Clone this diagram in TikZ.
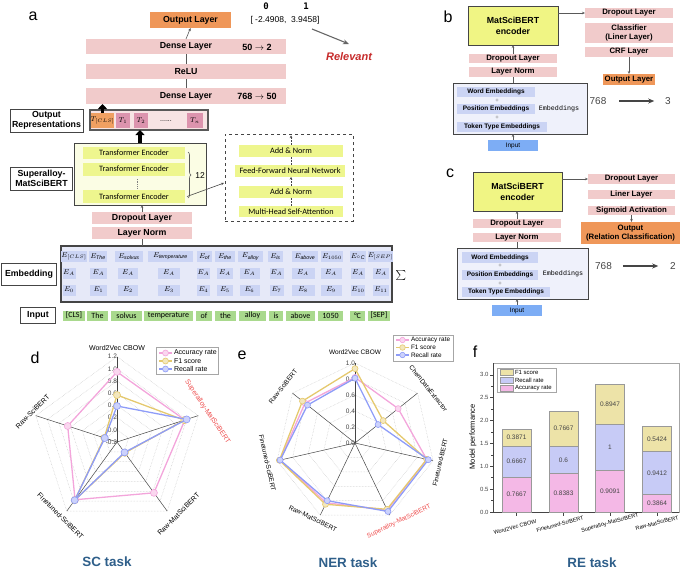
\documentclass[tikz,border=0pt]{standalone}
\usepackage{fontspec}
\setmainfont{Liberation Sans}
\newfontfamily\calfont{Carlito}
\newfontfamily\dmono{DejaVu Sans Mono}
\newfontfamily\lmono{Liberation Mono}
\usetikzlibrary{arrows.meta,decorations.pathreplacing,calc,shapes.geometric}
\newcommand\fsz[1]{\fontsize{#1}{#1}\selectfont}
\definecolor{bandpink}{HTML}{F1CBCB}
\definecolor{outorange}{HTML}{EF9759}
\definecolor{tclsorange}{HTML}{F0A062}
\definecolor{tpink}{HTML}{DC94AE}
\definecolor{orcbg}{HTML}{F7E4E4}
\definecolor{tboxbg}{HTML}{FBFDE4}
\definecolor{ygreen}{HTML}{EEF68E}
\definecolor{embbg}{HTML}{E6E9F8}
\definecolor{embcell}{HTML}{CBD4F4}
\definecolor{ingreen}{HTML}{A9D98D}
\definecolor{encyellow}{HTML}{F0F584}
\definecolor{inblue}{HTML}{7DADF5}
\definecolor{embbbg}{HTML}{EFF1FB}
\definecolor{relred}{HTML}{C62A2A}
\definecolor{dg}{HTML}{454545}
\definecolor{taskblue}{HTML}{2F5F8A}
\definecolor{labred}{HTML}{EE4D4D}
\definecolor{accpink}{HTML}{F3A5DB}
\definecolor{f1yel}{HTML}{E5C96E}
\definecolor{recblue}{HTML}{8E9CF8}
\definecolor{fpink}{HTML}{F4B8E6}
\definecolor{fblue}{HTML}{C7CBF6}
\definecolor{fyel}{HTML}{EDE3A8}
\begin{document}
\begin{tikzpicture}[x=1pt,y=-1pt,
  every node/.style={inner sep=0pt,outer sep=0pt},
  band/.style={fill=bandpink, font=\bfseries\fsz{8.8}},
  bandb/.style={fill=bandpink, font=\bfseries\fsz{7.8}},
  lblbox/.style={draw=dg, line width=0.9pt, fill=white, align=center, font=\bfseries\fontsize{8.8}{10.5}\selectfont},
  ybar/.style={fill=ygreen, font=\calfont\fsz{8.2}},
  ecell/.style={fill=embcell, font=\fsz{7.5}, minimum height=11pt},
  tok/.style={fill=ingreen, font=\calfont\fsz{8}, minimum height=10pt},
  tcell/.style={fill=tpink, minimum height=15pt, font=\fsz{7.5}},
  mathlab/.style={font=\fsz{9}},
  conn/.style={draw=gray!70!black, line width=0.6pt},
  connar/.style={conn, -{Stealth[length=3pt,width=2.5pt]}},
  dashc/.style={draw=dg, line width=0.6pt, dash pattern=on 2pt off 1.2pt},
  bigar/.style={line width=3.2pt, -{Triangle[length=5pt,width=9pt]}},
  plab/.style={font=\fsz{16}},
  encbox/.style={draw=dg, line width=1pt, fill=encyellow, align=center, font=\bfseries\fontsize{8.8}{11}\selectfont},
  embox/.style={draw=dg, line width=1pt, fill=embbbg},
  ebar/.style={fill=embcell, font=\bfseries\fsz{6.5}},
  pluslab/.style={font=\fsz{6}, text=gray},
  inbox/.style={fill=inblue, minimum width=50pt, minimum height=11pt, font=\fsz{6.5}},
  numlab/.style={font=\fsz{10}, text=dg},
  rgrid/.style={draw=gray!45, densely dotted, line width=0.5pt},
  raxis/.style={draw=dg, line width=0.5pt},
  rtick/.style={font=\fsz{6.5}, text=dg},
  rlab/.style={font=\fsz{7}},
  accl/.style={draw=accpink, line width=1.3pt, line join=round},
  f1l/.style={draw=f1yel, line width=1.3pt, line join=round},
  recl/.style={draw=recblue, line width=1.3pt, line join=round},
  accm/.style={circle, minimum size=7pt, draw=accpink, line width=0.6pt, fill=accpink!45!white},
  f1m/.style={circle, minimum size=7pt, draw=f1yel, line width=0.6pt, fill=f1yel!45!white},
  recm/.style={circle, minimum size=7pt, draw=recblue, line width=0.6pt, fill=recblue!45!white},
  legbox/.style={draw=gray!70, fill=white, line width=0.5pt},
  fbar/.style={draw=gray!80, line width=0.6pt},
  flab/.style={font=\fsz{6.5}, text=dg},
  tasklab/.style={font=\bfseries\fsz{13.4}, text=taskblue}
]
\useasboundingbox (0,0) rectangle (685,573);

% ================= panel a =================
\node[plab] (la) at (33,16) {a};
\node[fill=outorange, minimum width=81pt, minimum height=16pt, font=\bfseries\fsz{8.8}] (outA) at (190.5,20) {Output Layer};
\node[font=\dmono\bfseries\fsz{9}] (z0) at (266,6) {0};
\node[font=\dmono\bfseries\fsz{9}] (z1) at (306,6) {1};
\node[font=\fsz{8.5}] (vals) at (285,20) {[ -2.4908,\ \ 3.9458]};
\node[font=\bfseries\itshape\fsz{11}, text=relred] (rel) at (349,57) {Relevant};
\coordinate (relA) at (312,29);
\coordinate (relB) at (349,44);
\draw[line width=1.1pt, draw=gray!80!black, -{Stealth[length=6pt,width=5pt]}] (relA) -- (relB);

\node[band, minimum width=200pt, minimum height=15pt] (d2) at (186,46.5) {Dense Layer};
\node[mathlab] (d2m) at (257,47) {$\mathbf{50\rightarrow 2}$};
\node[band, minimum width=200pt, minimum height=15pt] (relu) at (186,71.5) {ReLU};
\node[band, minimum width=200pt, minimum height=16pt] (d1) at (186,96) {Dense Layer};
\node[mathlab] (d1m) at (257,96.5) {$\mathbf{768\rightarrow 50}$};
\draw[connar] (d2.north) -- (outA.south);
\draw[conn] (relu.north) -- (d2.south);
\draw[conn] (d1.north) -- (relu.south);

\node[lblbox, minimum width=73pt, minimum height=23pt] (orl) at (46.5,120.5) {Output\\Representations};
\node[draw=gray!70!black, line width=1.2pt, fill=orcbg, minimum width=118pt, minimum height=20pt] (orc) at (149,120) {};
\node[fill=tclsorange, minimum width=21pt, minimum height=15pt, font=\fsz{7.5}] (tcls) at (102.5,120.5) {$T_{[CLS]}$};
\node[tcell, minimum width=14pt] (t1) at (123,120.5) {$T_1$};
\node[tcell, minimum width=14pt] (t2) at (141,120.5) {$T_2$};
\node[font=\fsz{7}] (tdots) at (166,121) {......};
\node[tcell, minimum width=16pt] (tn) at (195,120.5) {$T_n$};
\draw[bigar] (tcls.north) -- (tcls.north |- d1.south);

\node[draw=dg, line width=1pt, fill=tboxbg, minimum width=132pt, minimum height=62pt] (tbox) at (140,174) {};
\draw[bigar] (tbox.north) -- (tbox.north |- orc.south);
\node[ybar, minimum width=102pt, minimum height=12pt] (te1) at (134,153) {Transformer Encoder};
\node[ybar, minimum width=102pt, minimum height=13pt] (te2) at (134,169) {Transformer Encoder};
\node[ybar, minimum width=102pt, minimum height=13pt] (te3) at (134,196.5) {Transformer Encoder};
\coordinate (vd1) at (137,179);
\coordinate (vd2) at (137,188);
\draw[densely dotted, draw=gray, line width=0.7pt] (vd1) -- (vd2);
\coordinate (br1) at (188,152);
\coordinate (br2) at (188,198);
\draw[decorate, decoration={brace, amplitude=3pt}, draw=gray!70!black, line width=0.6pt] (br1) -- (br2);
\node[font=\fsz{8.5}] (n12) at (200,176) {12};

\node[draw=dg, dashed, line width=0.9pt, minimum width=128pt, minimum height=87pt] (dbox) at (289,177.5) {};
\node[ybar, minimum width=104pt, minimum height=12pt] (an2) at (291,151) {Add \& Norm};
\node[ybar, minimum width=110pt, minimum height=12pt] (ffn) at (290,171) {Feed-Forward Neural Network};
\node[ybar, minimum width=104pt, minimum height=12pt] (an1) at (291,192) {Add \& Norm};
\node[ybar, minimum width=104pt, minimum height=11pt] (mhsa) at (291,211.5) {Multi-Head Self-Attention};
\draw[dashc] (mhsa.north) -- (an1.south);
\draw[dashc, -{Stealth[length=2.5pt,width=2.5pt]}] (an1.north) -- (an1.north |- ffn.south);
\draw[dashc] (an1.north |- ffn.north) -- (an2.south);
\draw[dashc, -{Stealth[length=2.5pt,width=2.5pt]}] (an2.north) -- ([yshift=-1.5pt]an2.north |- dbox.north);
\coordinate (dboxin) at (224,183);
\draw[draw=dg, line width=0.6pt, -{Stealth[length=3pt,width=2.5pt]}] ([xshift=2pt]te3.east) -- (dboxin);

\node[lblbox, minimum width=62pt, minimum height=23pt] (sml) at (41.5,178.5) {Superalloy-\\MatSciBERT};

\node[band, minimum width=100pt, minimum height=12pt] (dropA) at (142,218) {Dropout Layer};
\node[band, minimum width=100pt, minimum height=12pt] (lnA) at (142,233) {Layer Norm};
\draw[connar] (dropA.north) -- (dropA.north |- tbox.south);

\node[draw=dg, line width=1.2pt, fill=embbg, minimum width=331pt, minimum height=56pt] (emb) at (226.5,274) {};
\draw[conn] (lnA.south) -- (lnA.south |- emb.north);
\foreach \cxa/\wa/\cxb/\wb/\esub [count=\i] in {
  74/22/69/13/{[CLS]},
  98/18/98.5/17/{\mathit{The}},
  129/28/128/20/{\mathit{solvus}},
  170.5/45/169/22/{\mathit{temperature}},
  204.5/15/203.5/13/{\mathit{of}},
  225/20/225/16/{\mathit{the}},
  250.5/25/249.5/20/{\mathit{alloy}},
  275.5/15/276.5/14/{\mathit{is}},
  305/26/303/23/{\mathit{above}},
  332/22/331/21/{1050},
  358/16/358/14/{{}^{\circ}\mathit{C}},
  380.5/17/381/16/{[SEP]}} {
  \pgfmathtruncatemacro\jx{\i-1}
  \node[ecell, minimum width=\wa pt] (eA\i) at (\cxa,256.5) {$E_{\esub}$};
  \node[ecell, minimum width=\wb pt] (eB\i) at (\cxb,273) {$E_A$};
  \node[ecell, minimum width=\wb pt] (eC\i) at (\cxb,290) {$E_{\jx}$};
}
\node (sig) at (401,275) {\fsz{15}$\sum$};
\node[lblbox, minimum width=55pt, minimum height=22pt] (embl) at (29,274) {Embedding};

\node[lblbox, minimum width=35pt, minimum height=16pt] (inl) at (38,315.5) {Input};
\foreach \cxa/\wa/\tk [count=\i] in {74/22/[CLS], 97.5/21/The, 126.5/31/solvus, 168.5/49/temperature, 204/16/of, 225.5/21/the, 252.5/27/alloy, 276/14/is, 300.5/29/above, 330.5/25/1050, 357.5/15/°C, 379/22/[SEP]} {
  \node[tok, minimum width=\wa pt] (tk\i) at (\cxa,315.5) {\tk};
}

% ================= panel b =================
\node[plab] (lb) at (448,17) {b};
\node[encbox, minimum width=90pt, minimum height=39pt] (encB) at (513,25.5) {MatSciBERT\\encoder};
\node[bandb, minimum width=88pt, minimum height=10pt] (dropB) at (629,13) {Dropout Layer};
\node[bandb, minimum width=88pt, minimum height=20pt, align=center, font=\bfseries\fontsize{7.8}{9.5}\selectfont] (clsB) at (629,33) {Classifier\\(Liner Layer)};
\node[bandb, minimum width=88pt, minimum height=10pt] (crfB) at (629,52) {CRF Layer};
\node[fill=outorange, minimum width=52pt, minimum height=11pt, font=\bfseries\fsz{7.8}] (outB) at (629,79.5) {Output Layer};
\draw[connar] (crfB.south) -- (outB.north);
\draw[connar] (dropB.west -| encB.east) -- (dropB.west);
\node[bandb, minimum width=88pt, minimum height=9.5pt] (dropB2) at (513,58.5) {Dropout Layer};
\node[bandb, minimum width=88pt, minimum height=10pt] (lnB) at (513,72) {Layer Norm};
\node[embox, minimum width=134pt, minimum height=51pt] (embB) at (520,108.5) {};
\node[ebar, minimum width=78pt, minimum height=10pt] (wB) at (496,92) {Word Embeddings};
\node[ebar, minimum width=78pt, minimum height=10pt] (pB) at (496,109) {Position Embeddings};
\node[ebar, minimum width=90pt, minimum height=10pt] (tB) at (502,127) {Token Type Embeddings};
\node[pluslab] (plb1) at (497,100.5) {+};
\node[pluslab] (plb2) at (497,118) {+};
\node[font=\lmono\fsz{6.7}] (ebB) at (559,109) {Embeddings};
\node[inbox] (inB) at (513,145.5) {Input};
\draw[connar] (inB.north) -- (inB.north |- embB.south);
\draw[conn] (lnB.south) -- (lnB.south |- embB.north);
\draw[connar] (dropB2.north) -- (dropB2.north |- encB.south);
\node[numlab] (n768b) at (598,101) {768};
\node[numlab] (n3) at (668,101) {3};
\draw[line width=1.2pt, draw=dg, -{Stealth[length=6pt,width=5pt]}] ([xshift=13pt]n768b.east) -- ([xshift=-11pt]n3.west);

% ================= panel c =================
\node[plab] (lc) at (450,173) {c};
\node[encbox, minimum width=89pt, minimum height=39pt] (encC) at (517.5,191.5) {MatSciBERT\\encoder};
\node[bandb, minimum width=87pt, minimum height=10pt] (dropC) at (631.5,179) {Dropout Layer};
\node[bandb, minimum width=87pt, minimum height=9.5pt] (linC) at (631.5,194.5) {Liner Layer};
\node[bandb, minimum width=87pt, minimum height=9.5pt] (sigC) at (631.5,210.5) {Sigmoid Activation};
\node[fill=outorange, minimum width=99pt, minimum height=22pt, align=center, font=\bfseries\fontsize{7.8}{9.5}\selectfont] (outC) at (630.5,233) {Output\\(Relation Classification)};
\draw[connar] (sigC.south) -- (sigC.south |- outC.north);
\draw[connar] (dropC.west -| encC.east) -- (dropC.west);
\node[bandb, minimum width=88pt, minimum height=9pt] (dropC2) at (517,223.5) {Dropout Layer};
\node[bandb, minimum width=88pt, minimum height=9pt] (lnC) at (517,237.5) {Layer Norm};
\node[embox, minimum width=131pt, minimum height=51pt] (embC) at (522.5,273.5) {};
\node[ebar, minimum width=76pt, minimum height=11pt] (wC) at (500,257.5) {Word Embeddings};
\node[ebar, minimum width=76pt, minimum height=10pt] (pC) at (500,275) {Position Embeddings};
\node[ebar, minimum width=88pt, minimum height=10pt] (tC) at (506,292) {Token Type Embeddings};
\node[pluslab] (plc1) at (500,266) {+};
\node[pluslab] (plc2) at (500,283.5) {+};
\node[font=\lmono\fsz{6.7}] (ebC) at (563,274) {Embeddings};
\node[inbox] (inC) at (517,310.5) {Input};
\draw[connar] (inC.north) -- (inC.north |- embC.south);
\draw[conn] (lnC.south) -- (lnC.south |- embC.north);
\draw[connar] (dropC2.north) -- (dropC2.north |- encC.south);
\node[numlab] (n768c) at (603.5,266) {768};
\node[numlab] (n2) at (673,266) {2};
\draw[line width=1.2pt, draw=dg, -{Stealth[length=6pt,width=5pt]}] ([xshift=11pt]n768c.east) -- ([xshift=-12pt]n2.west);

% ================= panel d =================
\node[plab] (ld) at (35,358) {d};
\coordinate (dC) at (117,442);
\foreach \k in {1,...,7}
  \node[rgrid, regular polygon, regular polygon sides=5, minimum size={24.4*\k pt}] (dG\k) at (dC) {};
\foreach \ang [count=\i] in {90,18,-54,-126,162} {
  \coordinate (dX\i) at ($(dC)+(\ang:85.4pt)$);
  \draw[raxis] (dC) -- (dX\i);
}
\foreach \tl [count=\k from 0] in {-0.2,0.0,0.2,0.4,0.6,0.8,1.0,1.2}
  \node[rtick, anchor=east] (dT\k) at ($(dC)+(90:{\k*12.2pt})$) {\tl};
% series
\foreach \ang/\val [count=\i] in {90/0.95,18/0.97,-54/0.83,-126/0.97,162/0.65}
  \coordinate (dA\i) at ($(dC)+(\ang:{(\val+0.2)*61pt})$);
\foreach \ang/\val [count=\i] in {90/0.57,18/0.96,-54/0.02,-126/0.98,162/0.02}
  \coordinate (dF\i) at ($(dC)+(\ang:{(\val+0.2)*61pt})$);
\foreach \ang/\val [count=\i] in {90/0.39,18/1.0,-54/0.01,-126/0.98,162/0.01}
  \coordinate (dR\i) at ($(dC)+(\ang:{(\val+0.2)*61pt})$);
\draw[accl] (dA1) -- (dA2) -- (dA3) -- (dA4) -- (dA5) -- cycle;
\foreach \i in {1,...,5} \node[accm] (dAm\i) at (dA\i) {};
\draw[f1l] (dF1) -- (dF2) -- (dF3) -- (dF4) -- (dF5) -- cycle;
\foreach \i in {1,...,5} \node[f1m] (dFm\i) at (dF\i) {};
\draw[recl] (dR1) -- (dR2) -- (dR3) -- (dR4) -- (dR5) -- cycle;
\foreach \i in {1,...,5} \node[recm] (dRm\i) at (dR\i) {};
\node[rlab] (dL1) at (117,348) {Word2Vec CBOW};
\node[rlab, rotate=-56, text=labred] (dL2) at (207.5,412) {Superalloy-MatSciBERT};
\node[rlab, rotate=45] (dL3) at (178.5,514) {Raw-MatSciBERT};
\node[rlab, rotate=-45] (dL4) at (60.5,516) {Finetuned-SciBERT};
\node[rlab, rotate=45] (dL5) at (32.5,411.5) {Raw-SciBERT};
% legend d
\node[legbox, minimum width=62pt, minimum height=27pt] (dleg) at (187,360.5) {};
\coordinate (dlg1a) at (159,353); \coordinate (dlg1b) at (172,353);
\coordinate (dlg2a) at (159,361); \coordinate (dlg2b) at (172,361);
\coordinate (dlg3a) at (159,369); \coordinate (dlg3b) at (172,369);
\draw[accl] (dlg1a) -- (dlg1b); \node[accm, minimum size=6pt] (dlm1) at ($(dlg1a)!0.5!(dlg1b)$) {};
\draw[f1l] (dlg2a) -- (dlg2b); \node[f1m, minimum size=6pt] (dlm2) at ($(dlg2a)!0.5!(dlg2b)$) {};
\draw[recl] (dlg3a) -- (dlg3b); \node[recm, minimum size=6pt] (dlm3) at ($(dlg3a)!0.5!(dlg3b)$) {};
\node[font=\fsz{7}, anchor=west] (dlt1) at (174,353) {Accuracy rate};
\node[font=\fsz{7}, anchor=west] (dlt2) at (174,361) {F1 score};
\node[font=\fsz{7}, anchor=west] (dlt3) at (174,369) {Recall rate};
\node[tasklab] (tSC) at (107,562) {SC task};

% ================= panel e =================
\node[plab] (le) at (242,355) {e};
\coordinate (eC) at (355,443);
\foreach \k in {1,...,5}
  \node[rgrid, regular polygon, regular polygon sides=7, minimum size={32*\k pt}] (eG\k) at (eC) {};
\foreach \ang [count=\i] in {90,38.571,-12.857,-64.286,-115.714,-167.143,141.429} {
  \coordinate (eX\i) at ($(eC)+(\ang:80pt)$);
  \draw[raxis] (eC) -- (eX\i);
}
\foreach \tl [count=\k from 0] in {0.0,0.2,0.4,0.6,0.8,1.0}
  \node[rtick, anchor=east] (eT\k) at ($(eC)+(90:{\k*16pt})$) {\tl};
\foreach \ang/\val [count=\i] in {90/0.82,38.571/0.69,-12.857/0.92,-64.286/0.93,-115.714/0.83,-167.143/0.96,141.429/0.80}
  \coordinate (eA\i) at ($(eC)+(\ang:{\val*80pt})$);
\foreach \ang/\val [count=\i] in {90/0.93,38.571/0.45,-12.857/0.92,-64.286/0.92,-115.714/0.85,-167.143/0.97,141.429/0.84}
  \coordinate (eF\i) at ($(eC)+(\ang:{\val*80pt})$);
\foreach \ang/\val [count=\i] in {90/0.81,38.571/0.37,-12.857/0.94,-64.286/0.95,-115.714/0.80,-167.143/0.96,141.429/0.76}
  \coordinate (eR\i) at ($(eC)+(\ang:{\val*80pt})$);
\draw[accl] (eA1) -- (eA2) -- (eA3) -- (eA4) -- (eA5) -- (eA6) -- (eA7) -- cycle;
\foreach \i in {1,...,7} \node[accm, minimum size=6pt] (eAm\i) at (eA\i) {};
\draw[f1l] (eF1) -- (eF2) -- (eF3) -- (eF4) -- (eF5) -- (eF6) -- (eF7) -- cycle;
\foreach \i in {1,...,7} \node[f1m, minimum size=6pt] (eFm\i) at (eF\i) {};
\draw[recl] (eR1) -- (eR2) -- (eR3) -- (eR4) -- (eR5) -- (eR6) -- (eR7) -- cycle;
\foreach \i in {1,...,7} \node[recm, minimum size=6pt] (eRm\i) at (eR\i) {};
\node[font=\fsz{6.5}] (eL1) at (355,352) {Word2Vec CBOW};
\node[font=\fsz{6.5}, rotate=-51.4] (eL2) at (428.5,388.5) {ChemDataExtractor};
\node[font=\fsz{6.5}, rotate=77.1] (eL3) at (440,462.5) {Finetuned-BERT};
\node[font=\fsz{6.5}, rotate=25.7, text=labred] (eL4) at (399,521.5) {Superalloy-MatSciBERT};
\node[font=\fsz{6.5}, rotate=-25.7] (eL5) at (313,518.5) {Raw-MatSciBERT};
\node[font=\fsz{6.5}, rotate=-77.1] (eL6) at (267.5,463) {Finetuned-SciBERT};
\node[font=\fsz{6.5}, rotate=51.4] (eL7) at (283,386.5) {Raw-SciBERT};
% legend e
\node[legbox, minimum width=60pt, minimum height=26pt] (eleg) at (423,348) {};
\coordinate (elg1a) at (396,340); \coordinate (elg1b) at (409,340);
\coordinate (elg2a) at (396,347.5); \coordinate (elg2b) at (409,347.5);
\coordinate (elg3a) at (396,355); \coordinate (elg3b) at (409,355);
\draw[accl] (elg1a) -- (elg1b); \node[accm, minimum size=5.5pt] (elm1) at ($(elg1a)!0.5!(elg1b)$) {};
\draw[f1l] (elg2a) -- (elg2b); \node[f1m, minimum size=5.5pt] (elm2) at ($(elg2a)!0.5!(elg2b)$) {};
\draw[recl] (elg3a) -- (elg3b); \node[recm, minimum size=5.5pt] (elm3) at ($(elg3a)!0.5!(elg3b)$) {};
\node[font=\fsz{6.4}, anchor=west] (elt1) at (411,340) {Accuracy rate};
\node[font=\fsz{6.4}, anchor=west] (elt2) at (411,347.5) {F1 score};
\node[font=\fsz{6.4}, anchor=west] (elt3) at (411,355) {Recall rate};
\node[tasklab] (tNER) at (348,563) {NER task};

% ================= panel f =================
\node[plab] (lf) at (475,352) {f};
\draw[draw=gray!70, line width=0.6pt] (493,363) rectangle (679,512.5);
\draw[draw=dg, line width=0.7pt] (493,363) -- (493,512.5) -- (679,512.5);
\foreach \vv [count=\i] in {0.0,0.5,1.0,1.5,2.0,2.5,3.0} {
  \draw[draw=dg, line width=0.6pt] (493,{512-45.7*\vv}) -- (490,{512-45.7*\vv});
  \node[font=\fsz{6}, text=dg, anchor=east] (fy\i) at (488.5,{512-45.7*\vv}) {\vv};
}
\foreach \vv in {0.25,0.75,...,2.75}
  \draw[draw=dg, line width=0.5pt] (493,{512-45.7*\vv}) -- (491.3,{512-45.7*\vv});
\foreach \cxa/\va/\vr/\vf [count=\i] in {516.5/0.7667/0.6667/0.3871, 563.5/0.8383/0.6/0.7667, 610/0.9091/1/0.8947, 657/0.3864/0.9412/0.5424} {
  \pgfmathsetmacro\ya{512-45.7*\va}
  \pgfmathsetmacro\yr{\ya-45.7*\vr}
  \pgfmathsetmacro\yf{\yr-45.7*\vf}
  \draw[draw=dg, line width=0.5pt] (\cxa,512.5) -- (\cxa,515.5);
  \draw[fbar, fill=fpink] ({\cxa-14.5},512) rectangle ({\cxa+14.5},\ya);
  \draw[fbar, fill=fblue] ({\cxa-14.5},\ya) rectangle ({\cxa+14.5},\yr);
  \draw[fbar, fill=fyel] ({\cxa-14.5},\yr) rectangle ({\cxa+14.5},\yf);
  \node[flab] (fa\i) at (\cxa,{(512+\ya)/2}) {\va};
  \node[flab] (fr\i) at (\cxa,{(\ya+\yr)/2}) {\vr};
  \node[flab] (ff\i) at (\cxa,{(\yr+\yf)/2}) {\vf};
}
\node[legbox, minimum width=59pt, minimum height=24pt] (fleg) at (526.5,380) {};
\node[fill=fyel, draw=gray!80, line width=0.4pt, minimum width=13pt, minimum height=6pt] (fs1) at (506.5,372) {};
\node[fill=fblue, draw=gray!80, line width=0.4pt, minimum width=13pt, minimum height=6pt] (fs2) at (506.5,380) {};
\node[fill=fpink, draw=gray!80, line width=0.4pt, minimum width=13pt, minimum height=6pt] (fs3) at (506.5,388) {};
\node[font=\fsz{6}, anchor=west] (flt1) at (515,372) {F1 score};
\node[font=\fsz{6}, anchor=west] (flt2) at (515,380) {Recall rate};
\node[font=\fsz{6}, anchor=west] (flt3) at (515,388) {Accuracy rate};
\node[font=\fsz{7.5}, rotate=90] (fyl) at (473,437) {Model performance};
\node[font=\fsz{5.5}, rotate=15] (fx1) at (515,527) {Word2Vec CBOW};
\node[font=\fsz{5.5}, rotate=15] (fx2) at (560,524) {Finetuned-SciBERT};
\node[font=\fsz{5.5}, rotate=15] (fx3) at (610,523) {Superalloy-MatSciBERT};
\node[font=\fsz{5.5}, rotate=15] (fx4) at (657,523) {Raw-MatSciBERT};
\node[tasklab] (tRE) at (592,563) {RE task};
\end{tikzpicture}
\end{document}
